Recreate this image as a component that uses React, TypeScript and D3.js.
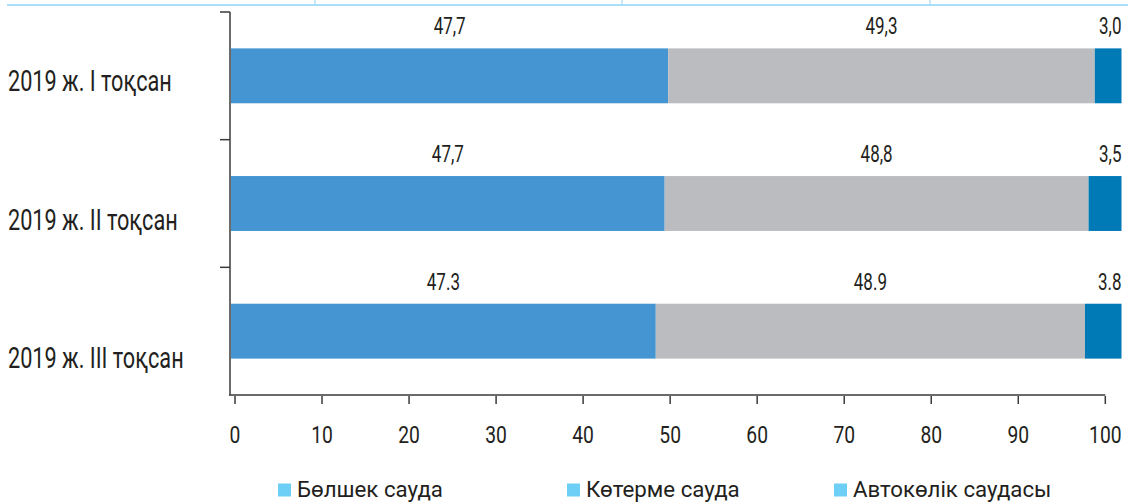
import React, { useLayoutEffect, useRef, useState } from "react";
import * as d3 from "d3";

// ---- data ----
const categories = ["2019 ж. I тоқсан", "2019 ж. II тоқсан", "2019 ж. III тоқсан"];
const seriesNames = ["Бөлшек сауда", "Көтерме сауда", "Автокөлік саудасы"];
// bar lengths as drawn in the reference (shares, %)
const retailShare = [49.1, 48.7, 47.7];
const wholesaleShare = [47.9, 47.6, 48.2];
const autoShare = [3.0, 3.7, 4.1];
// value labels as printed in the reference
const retailLabels = ["47,7", "47,7", "47.3"];
const wholesaleLabels = ["49,3", "48,8", "48.9"];
const autoLabels = ["3,0", "3,5", "3.8"];
const xTicks = [0, 10, 20, 30, 40, 50, 60, 70, 80, 90, 100];

// ---- style ----
const W = 1128;
const H = 503;
const FONT = "Roboto, 'Noto Sans', sans-serif";
const TEXT = "#231f20";
const AXIS = "#3a3a3a";
const COLORS = ["#4495d1", "#bbbcc0", "#0079b7"];
const LEGEND_SWATCH = "#6dcff6";
const TOP_LINE = "#8fd3f4";

// text groups: font size and the width a sample string takes in the reference (condensed face)
const GROUPS: Record<string, { size: number; sample: string; target: number }> = {
  cat: { size: 30, sample: "2019 ж. I тоқсан", target: 164 },
  tick: { size: 23.5, sample: "100", target: 32.5 },
  val: { size: 24, sample: "47,7", target: 32 },
  leg: { size: 22.5, sample: "Бөлшек сауда", target: 146 },
};

export default function App() {
  const [sx, setSx] = useState<Record<string, number>>({ cat: 0.72, tick: 0.8, val: 0.72, leg: 0.9 });
  const refs = useRef<Record<string, SVGTextElement | null>>({});

  useLayoutEffect(() => {
    const measure = () => {
      const s: Record<string, number> = {};
      Object.keys(GROUPS).forEach((k) => {
        const el = refs.current[k];
        const w = el ? el.getComputedTextLength() : 0;
        s[k] = w > 0 ? GROUPS[k].target / w : 1;
      });
      setSx(s);
    };
    measure();
    if ((document as any).fonts && (document as any).fonts.ready) {
      (document as any).fonts.ready.then(measure);
    }
  }, []);

  const rows = categories.map((c, i) => ({
    cat: c,
    s0: retailShare[i],
    s1: wholesaleShare[i],
    s2: autoShare[i],
  }));
  const keys = ["s0", "s1", "s2"];
  const labels = [retailLabels, wholesaleLabels, autoLabels];
  const stacked = d3.stack<any>().keys(keys)(rows);

  const axisX = 230;
  const barX = d3.scaleLinear().domain([0, 100]).range([axisX + 1, 1121.5]);
  const tickX = d3.scaleLinear().domain([0, 100]).range([235, 1105.3]);
  const y = d3
    .scaleBand<string>()
    .domain(categories)
    .range([12, 395])
    .paddingInner(0.57)
    .paddingOuter(0.285);
  const step = y.step();
  const bandTop = (c: string) => (y(c) as number) - y.paddingOuter() * step;
  const catLabelY = d3.scalePoint<string>().domain(categories).range([91, 368]);

  const legendX = [278, 567, 834];

  const tr = (x: number, yy: number, g: string) => `translate(${x},${yy}) scale(${sx[g]},1)`;

  return (
    <svg
      width={W}
      height={H}
      viewBox={`0 0 ${W} ${H}`}
      style={{ position: "absolute", left: 0, top: 0, background: "#fff" }}
      fontFamily={FONT}
    >
      {/* hidden samples used to fit the condensed look */}
      <g visibility="hidden">
        {Object.keys(GROUPS).map((k) => (
          <text
            key={k}
            ref={(el) => {
              refs.current[k] = el;
            }}
            x={0}
            y={-50}
            fontSize={GROUPS[k].size}
          >
            {GROUPS[k].sample}
          </text>
        ))}
      </g>

      {/* remnant of table header above the chart */}
      <line x1={7} x2={W} y1={5} y2={5} stroke={TOP_LINE} strokeWidth={1.5} />
      {[315, 622, 930].map((x) => (
        <line key={x} x1={x} x2={x} y1={0} y2={5} stroke={TOP_LINE} strokeWidth={1} />
      ))}

      {/* bars */}
      {stacked.map((layer, si) =>
        layer.map((d, ri) => (
          <rect
            key={`${si}-${ri}`}
            x={barX(d[0])}
            width={barX(d[1]) - barX(d[0])}
            y={y(categories[ri])}
            height={y.bandwidth()}
            fill={COLORS[si]}
          />
        ))
      )}

      {/* value labels */}
      {stacked.map((layer, si) =>
        layer.map((d, ri) => {
          const last = si === stacked.length - 1;
          const x = last ? barX(d[1]) : (barX(d[0]) + barX(d[1])) / 2;
          return (
            <text
              key={`l${si}-${ri}`}
              transform={tr(x, (y(categories[ri]) as number) - 14, "val")}
              textAnchor={last ? "end" : "middle"}
              fontSize={GROUPS.val.size}
              fill={TEXT}
            >
              {labels[si][ri]}
            </text>
          );
        })
      )}

      {/* y axis */}
      <line x1={axisX} x2={axisX} y1={12} y2={395} stroke={AXIS} strokeWidth={1.5} />
      {categories.map((c) => (
        <line
          key={`yt${c}`}
          x1={axisX - 10}
          x2={axisX}
          y1={bandTop(c)}
          y2={bandTop(c)}
          stroke={AXIS}
          strokeWidth={1.5}
        />
      ))}
      {categories.map((c) => (
        <text key={`yl${c}`} transform={tr(8, catLabelY(c) as number, "cat")} fontSize={GROUPS.cat.size} fill={TEXT}>
          {c}
        </text>
      ))}

      {/* x axis */}
      <line x1={axisX - 1} x2={tickX(100)} y1={395} y2={395} stroke={AXIS} strokeWidth={1.5} />
      {xTicks.map((t) => (
        <g key={`xt${t}`}>
          <line x1={tickX(t)} x2={tickX(t)} y1={396} y2={404} stroke={AXIS} strokeWidth={1.5} />
          <text transform={tr(tickX(t), 443, "tick")} textAnchor="middle" fontSize={GROUPS.tick.size} fill={TEXT}>
            {t}
          </text>
        </g>
      ))}

      {/* legend */}
      {seriesNames.map((n, i) => (
        <g key={n}>
          <rect x={legendX[i]} y={483.5} width={13} height={13} fill={LEGEND_SWATCH} />
          <text transform={tr(legendX[i] + 19, 496.5, "leg")} fontSize={GROUPS.leg.size} fill={TEXT}>
            {n}
          </text>
        </g>
      ))}
    </svg>
  );
}
